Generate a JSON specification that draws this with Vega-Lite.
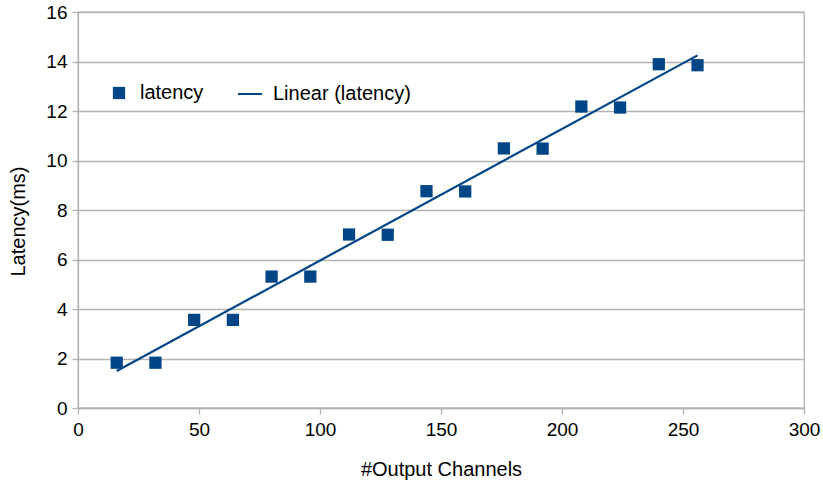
{
  "$schema": "https://vega.github.io/schema/vega-lite/v6.json",
  "width": 726,
  "height": 396,
  "autosize": "none",
  "padding": {"left": 78, "top": 12, "right": 19, "bottom": 75},
  "background": "white",
  "config": {
    "font": "Liberation Sans",
    "view": {"stroke": "#b3b3b3", "strokeWidth": 1.3},
    "axis": {
      "labelFont": "Liberation Sans",
      "labelFontSize": 19,
      "labelColor": "#000000",
      "titleFont": "Liberation Sans",
      "titleFontSize": 20,
      "titleFontWeight": "normal",
      "titleColor": "#000000",
      "domainColor": "#b3b3b3",
      "domainWidth": 1.3,
      "tickColor": "#b3b3b3",
      "tickWidth": 1.3,
      "tickSize": 6,
      "gridColor": "#b3b3b3",
      "gridWidth": 1.3
    },
    "legend": {
      "labelFont": "Liberation Sans",
      "labelFontSize": 20,
      "labelColor": "#000000",
      "padding": 0
    }
  },
  "data": {
    "values": [
      {"channels": 16, "latency": 1.83},
      {"channels": 32, "latency": 1.83},
      {"channels": 48, "latency": 3.56},
      {"channels": 64, "latency": 3.56},
      {"channels": 80, "latency": 5.31},
      {"channels": 96, "latency": 5.31},
      {"channels": 112, "latency": 7.01},
      {"channels": 128, "latency": 7.0},
      {"channels": 144, "latency": 8.76},
      {"channels": 160, "latency": 8.75},
      {"channels": 176, "latency": 10.49},
      {"channels": 192, "latency": 10.48},
      {"channels": 208, "latency": 12.18},
      {"channels": 224, "latency": 12.14},
      {"channels": 240, "latency": 13.89},
      {"channels": 256, "latency": 13.85}
    ]
  },
  "encoding": {
    "x": {
      "field": "channels",
      "type": "quantitative",
      "title": "#Output Channels",
      "scale": {"domain": [0, 300], "nice": false},
      "axis": {"values": [0, 50, 100, 150, 200, 250, 300], "grid": false, "labelFlush": false, "labelPadding": 6, "titlePadding": 20}
    },
    "y": {
      "field": "latency",
      "type": "quantitative",
      "title": "Latency(ms)",
      "scale": {"domain": [0, 16], "nice": false},
      "axis": {"values": [0, 2, 4, 6, 8, 10, 12, 14, 16], "labelFlush": false, "labelPadding": 5, "titlePadding": 17, "titleY": 209}
    }
  },
  "layer": [
    {
      "mark": {"type": "point", "shape": "square", "filled": true, "size": 150, "opacity": 1},
      "encoding": {
        "fill": {
          "datum": "latency",
          "type": "nominal",
          "scale": {"range": ["#004586"]},
          "legend": {
            "title": null,
            "orient": "none",
            "legendX": 31,
            "legendY": 71,
            "symbolType": "square",
            "symbolSize": 150,
            "symbolStrokeWidth": 0,
            "labelOffset": 11
          }
        }
      }
    },
    {
      "transform": [{"regression": "latency", "on": "channels"}],
      "mark": {"type": "line", "strokeWidth": 2.2},
      "encoding": {
        "stroke": {
          "datum": "Linear (latency)",
          "type": "nominal",
          "scale": {"range": ["#004586"]},
          "legend": {
            "title": null,
            "orient": "none",
            "legendX": 159,
            "legendY": 69,
            "symbolType": "stroke",
            "symbolSize": 576,
            "symbolStrokeWidth": 2,
            "labelOffset": 10
          }
        }
      }
    }
  ]
}
